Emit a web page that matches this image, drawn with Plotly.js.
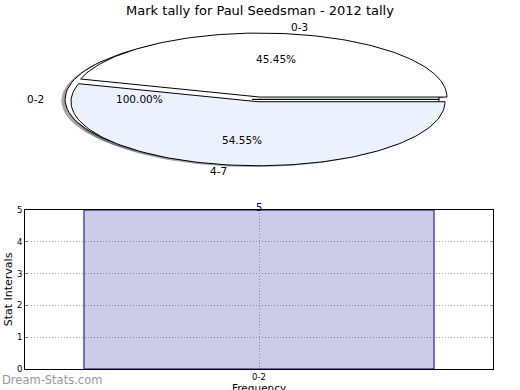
<!DOCTYPE html>
<html><head><meta charset="utf-8">
<script src="https://cdn.plot.ly/plotly-3.0.1.min.js"></script>
<style>html,body{margin:0;padding:0;background:#fff}#chart{width:520px;height:390px}</style>
</head><body><div id="chart"></div>
<script>
// ---- data ----
const chartTitle = 'Mark tally for Paul Seedsman - 2012 tally';
const pieLabels = ['0-2', '0-3', '4-7'];
const piePercents = [100.00, 45.45, 54.55];
const pieGroups = [0, 1, 1];          // 0-2 is its own full pie drawn underneath
const pieColors = ['#ffffff', '#ffffff', '#ebf1fd'];
const barCategories = ['0-2'];
const barValues = [5];
const yTickValues = [0, 1, 2, 3, 4, 5];
const watermark = 'Dream-Stats.com';
const xTitle = 'Frequency';
const yTitle = 'Stat Intervals';

// ---- pie geometry (pixel space of top panel) ----
const CX = 259, CY = 99.4, A = 187, B = 64;
const EXPLODE = 0.037;
const SH_DX = -3.7, SH_DY = 1.3;
const N = 120;

const groupStart = {};
const wedges = pieLabels.map((lab, i) => {
  const g = pieGroups[i];
  const start = groupStart[g] || 0;
  const end = start + piePercents[i];
  groupStart[g] = end;
  const t0 = start / 100 * 2 * Math.PI, t1 = end / 100 * 2 * Math.PI;
  const tm = (t0 + t1) / 2;
  const ox = CX + EXPLODE * A * Math.cos(tm);
  const oy = CY - EXPLODE * B * Math.sin(tm);
  return {lab, pct: piePercents[i], t0, t1, tm, ox, oy, color: pieColors[i]};
});

function wedgePath(w, dx, dy) {
  const xs = [w.ox + dx], ys = [w.oy + dy];
  for (let k = 0; k <= N; k++) {
    const t = w.t0 + (w.t1 - w.t0) * k / N;
    xs.push(w.ox + dx + A * Math.cos(t));
    ys.push(w.oy + dy - B * Math.sin(t));
  }
  xs.push(w.ox + dx); ys.push(w.oy + dy);
  return {xs, ys};
}

const traces = [];
wedges.forEach(w => {
  const p = wedgePath(w, SH_DX, SH_DY);
  traces.push({type: 'scatter', mode: 'lines', x: p.xs, y: p.ys, xaxis: 'x2', yaxis: 'y2',
    fill: 'toself', fillcolor: 'rgba(77,77,77,0.5)', line: {width: 0, color: 'rgba(0,0,0,0)'},
    hoverinfo: 'skip', showlegend: false});
});
wedges.forEach(w => {
  const p = wedgePath(w, 0, 0);
  traces.push({type: 'scatter', mode: 'lines', x: p.xs, y: p.ys, xaxis: 'x2', yaxis: 'y2',
    fill: 'toself', fillcolor: w.color, line: {width: 1, color: '#000000'},
    hoverinfo: 'skip', showlegend: false});
});

traces.push({
  type: 'bar', x: barCategories, y: barValues, xaxis: 'x', yaxis: 'y', width: 0.748,
  marker: {color: 'rgba(0,0,128,0.2)', line: {color: '#000088', width: 1}},
  hoverinfo: 'skip', showlegend: false
});

const annotations = [];
wedges.forEach(w => {
  annotations.push({xref: 'x2', yref: 'y2', x: w.ox + 0.6 * A * Math.cos(w.tm), y: w.oy - 0.6 * B * Math.sin(w.tm),
    text: w.pct.toFixed(2) + '%', showarrow: false, xanchor: 'center', yanchor: 'middle',
    font: {size: 10.5, color: '#000'}});
  const c = Math.cos(w.tm);
  annotations.push({xref: 'x2', yref: 'y2', x: w.ox + 1.1 * A * c, y: w.oy - 1.1 * B * Math.sin(w.tm),
    text: w.lab, showarrow: false, xanchor: c >= 0 ? 'left' : 'right', yanchor: 'middle',
    font: {size: 10.5, color: '#000'}});
});
barCategories.forEach((c, i) => {
  annotations.push({xref: 'x', yref: 'y', x: c, y: barValues[i], text: String(barValues[i]),
    showarrow: false, yanchor: 'bottom', yshift: -5, font: {size: 10, color: '#000080'}});
});
annotations.push({xref: 'paper', yref: 'paper', x: 0, y: 10 / 390, xanchor: 'left', yanchor: 'middle',
  text: watermark, showarrow: false, font: {size: 11.5, color: '#999999'}});
// x-axis title placed under the tick labels (partly cut by the page edge, as in the reference)
annotations.push({xref: 'x', yref: 'paper', x: barCategories[0], y: (390 - 380) / 390,
  xanchor: 'center', yanchor: 'top', text: xTitle, showarrow: false, font: {size: 10.5, color: '#000'}});

const layout = {
  width: 520, height: 390,
  margin: {l: 0, r: 0, t: 0, b: 0},
  paper_bgcolor: '#ffffff', plot_bgcolor: 'rgba(0,0,0,0)',
  font: {family: 'DejaVu Sans', color: '#000'},
  showlegend: false,
  title: {text: chartTitle, font: {size: 13, color: '#000'}, x: 0.5, xanchor: 'center',
    y: 1 - 10 / 390, yanchor: 'middle', yref: 'container'},
  xaxis: {domain: [25 / 520, 493 / 520], type: 'category', range: [-0.5, 0.5],
    showline: true, linecolor: '#000', linewidth: 1, mirror: true,
    showgrid: true, gridcolor: '#a8a8a8', griddash: '1px,2px', gridwidth: 1,
    ticks: '', tickfont: {size: 8.5}, fixedrange: true, automargin: false},
  yaxis: {domain: [21 / 390, 180 / 390], range: [0, 5], tickvals: yTickValues,
    showline: true, linecolor: '#000', linewidth: 1, mirror: 'ticks',
    ticks: 'inside', ticklen: 3, tickcolor: '#888',
    showgrid: true, gridcolor: '#a8a8a8', griddash: '1px,2px', gridwidth: 1, zeroline: false,
    tickfont: {size: 8.5}, fixedrange: true, automargin: false,
    title: {text: yTitle, font: {size: 11}, standoff: 2}},
  xaxis2: {domain: [0, 1], range: [0, 520], visible: false, fixedrange: true, anchor: 'y2'},
  yaxis2: {domain: [0.52, 1], range: [390 * 0.48, 0], visible: false, fixedrange: true, anchor: 'x2'},
  annotations
};

Plotly.newPlot('chart', traces, layout, {staticPlot: true, displayModeBar: false});
</script>
</body></html>
